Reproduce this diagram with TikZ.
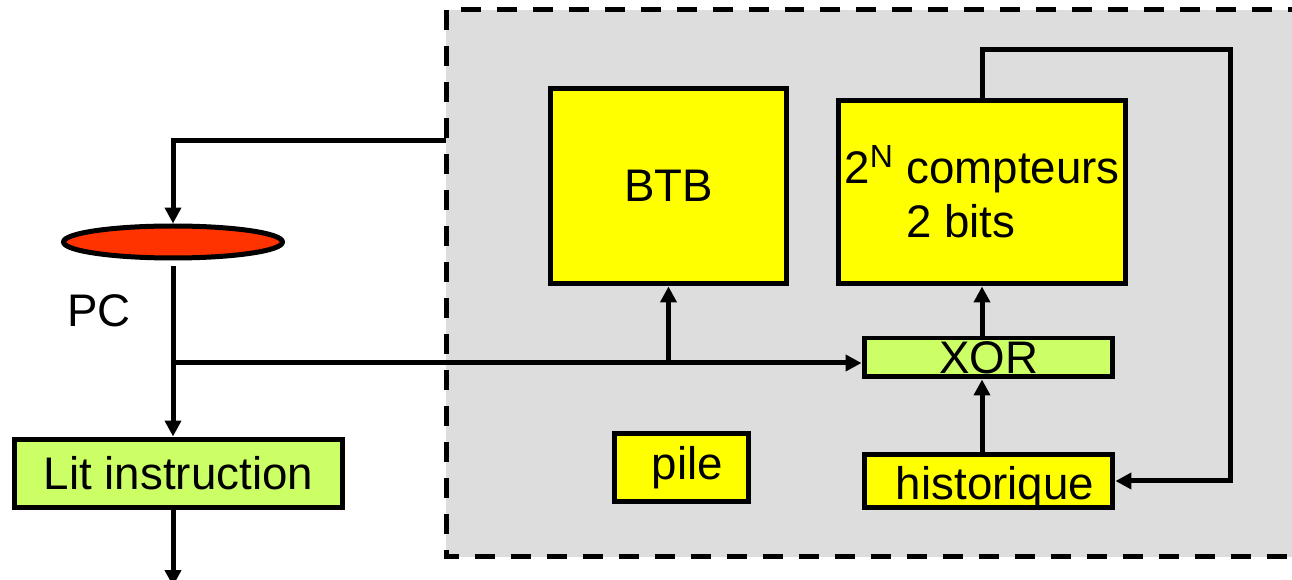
\documentclass[tikz,border=0pt]{standalone}
\usepackage{fontspec}
\setmainfont{Liberation Sans}
\usetikzlibrary{shapes.geometric,arrows.meta}
\definecolor{jaune}{HTML}{FFFF00}
\definecolor{vertclair}{HTML}{CCFF66}
\definecolor{rouge}{HTML}{FF3300}
\definecolor{grisfond}{HTML}{DDDDDD}
\begin{document}
\begin{tikzpicture}
[x=0.02cm,y=-0.02cm,
 linedecorate/.style={line width=0.1cm},
 fleche/.style={linedecorate,-{Triangle[length=0.32cm,width=0.32cm]}},
 boite/.style={draw,linedecorate,rectangle,inner sep=0pt,
   font=\fontsize{26}{31}\selectfont},
 boitejaune/.style={boite,fill=jaune},
 boiteverte/.style={boite,fill=vertclair}]
\clip (0,0) rectangle (1292,580);
%% zone du predicteur
\draw[linedecorate,dash pattern=on 0.4cm off 0.32cm,fill=grisfond]
  (446,10) rectangle (1320,557);
\coordinate (tap) at (446,141);
%% les blocs
\node[draw,linedecorate,ellipse,fill=rouge,inner sep=0pt,
  minimum width=4.38cm,minimum height=0.64cm] (pc) at (173,242) {};
\node[font=\fontsize{26}{31}\selectfont] (pclabel) at (99,311) {PC};
\node[boiteverte,minimum width=6.58cm,minimum height=1.38cm] (lit)
  at (178.5,473.5) {Lit instruction};
\node[boitejaune,minimum width=4.74cm,minimum height=3.92cm] (btb)
  at (668.5,186) {BTB};
\node[boitejaune,minimum width=5.76cm,minimum height=3.68cm,align=left]
  (cnt) at (982,192)
  {2\textsuperscript{N} compteurs\\\hspace*{1.24cm}2 bits};
\node[boiteverte,minimum width=4.98cm,minimum height=0.78cm] (xor)
  at (988.5,357.5) {XOR};
\node[boitejaune,minimum width=4.98cm,minimum height=1.08cm,
  text height=0.76cm,text depth=0cm] (hist) at (988.5,481)
  {\hspace*{0.26cm}historique};
\node[boitejaune,minimum width=2.7cm,minimum height=1.38cm,
  text height=0.5cm,text depth=0cm] (pile) at (681.5,467.5)
  {\hspace*{0.24cm}pile};
%% les connexions
\coordinate (br) at (173,363);
\coordinate (out) at (173,586);
\coordinate (fb) at (1230,50);
\draw[fleche] (tap) -| (pc.north);
\draw[fleche] ([yshift=-0.12cm]pc.south) -- (pc.south |- lit.north);
\draw[fleche] (br) -- (xor.west |- br);
\draw[fleche] (btb.south |- br) -- (btb.south);
\draw[fleche] (xor.north -| cnt.south) -- (cnt.south);
\draw[fleche] (hist.north -| cnt.south) -- (xor.south -| cnt.south);
\draw[fleche] (cnt.north) |- (fb) |- (hist.east);
\draw[fleche] (lit.south -| pc.south) -- (out);
\end{tikzpicture}
\end{document}
